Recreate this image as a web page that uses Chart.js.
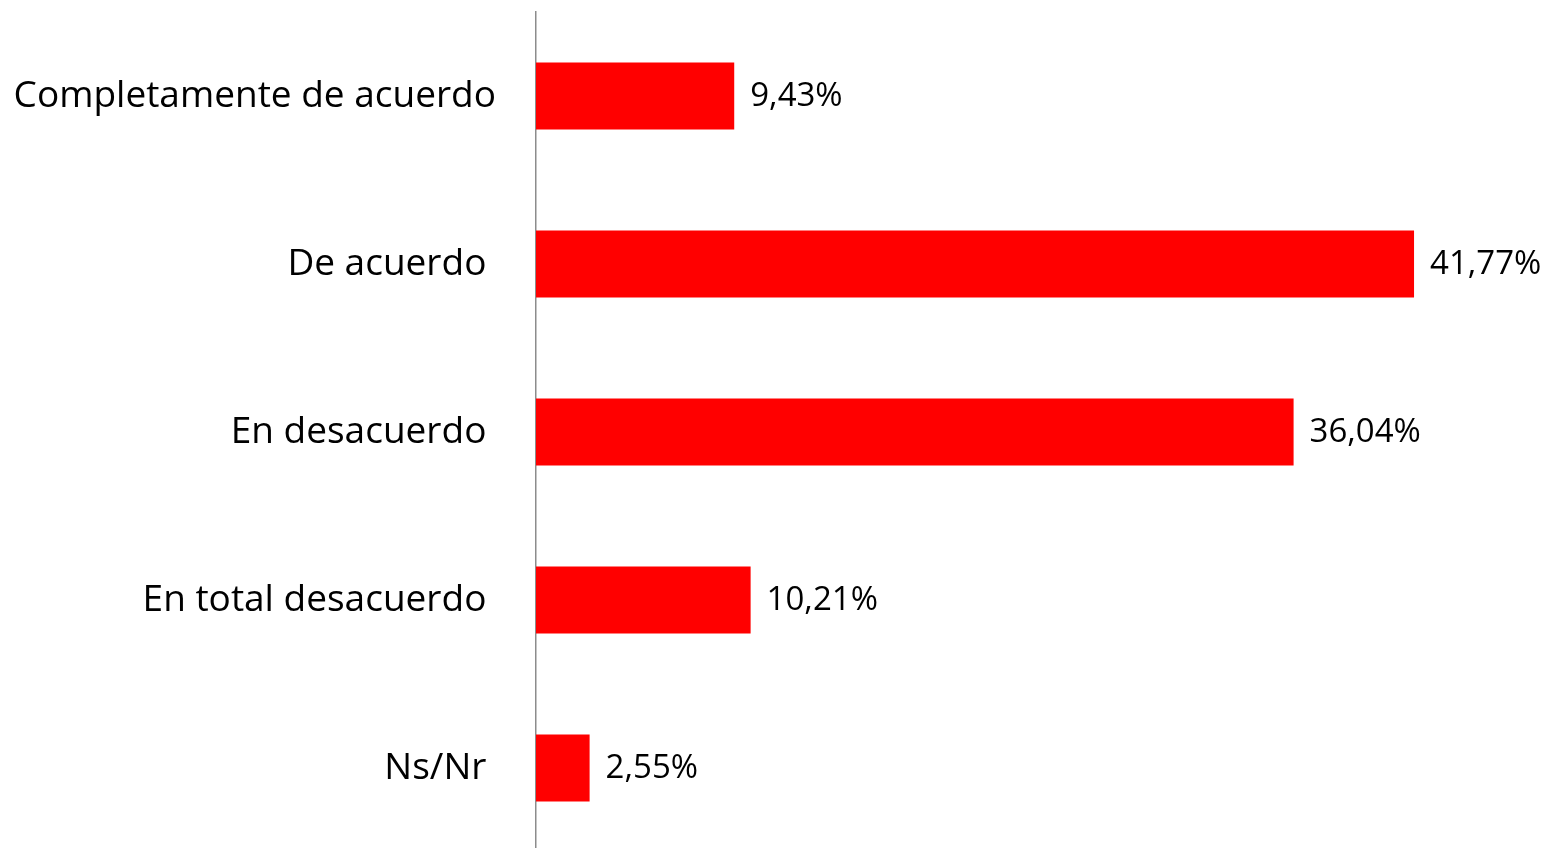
<!DOCTYPE html>
<html>
<head>
<meta charset="utf-8">
<script src="https://cdn.jsdelivr.net/npm/chart.js@4/dist/chart.umd.min.js"></script>
<style>
  html, body { margin: 0; padding: 0; background: #fff; overflow: hidden; }
  #wrap { width: 1545px; height: 852px; position: relative; }
</style>
</head>
<body>
<div id="wrap"><canvas id="barChart"></canvas></div>
<script>
const categories = [
  'Completamente de acuerdo',
  'De acuerdo ',
  'En desacuerdo ',
  'En total desacuerdo ',
  'Ns/Nr '
];
const percentages = [9.43, 41.77, 36.04, 10.21, 2.55];
const xMax = 48;

function formatPct(v) {
  return v.toFixed(2).replace('.', ',') + '%';
}

const valueLabels = {
  id: 'valueLabels',
  afterDatasetsDraw(chart) {
    const ctx = chart.ctx;
    const meta = chart.getDatasetMeta(0);
    ctx.save();
    ctx.font = '33px "Open Sans"';
    ctx.fillStyle = '#000';
    ctx.textAlign = 'left';
    ctx.textBaseline = 'middle';
    meta.data.forEach((bar, i) => {
      ctx.fillText(formatPct(percentages[i]), bar.x + 16, bar.y + 1);
    });
    ctx.restore();
  }
};

const ctx = document.getElementById('barChart');
new Chart(ctx, {
  type: 'bar',
  data: {
    labels: categories,
    datasets: [{
      data: percentages,
      backgroundColor: '#FF0000',
      borderWidth: 0,
      barPercentage: 0.4,
      categoryPercentage: 1
    }]
  },
  options: {
    indexAxis: 'y',
    responsive: true,
    maintainAspectRatio: false,
    animation: false,
    layout: { padding: { top: 12, right: 0, bottom: 0, left: 0 } },
    plugins: {
      legend: { display: false },
      tooltip: { enabled: false }
    },
    scales: {
      x: {
        display: false,
        min: 0,
        max: xMax
      },
      y: {
        afterFit(scale) {
          scale.width = 536;
          scale.paddingTop = 0;
          scale.paddingBottom = 0;
        },
        grid: { display: false, drawTicks: false },
        border: { display: true, color: '#8c8c8c', width: 1.5 },
        ticks: {
          color: '#000',
          padding: 40,
          font: { family: '"Open Sans"', size: 37 }
        }
      }
    }
  },
  plugins: [valueLabels]
});
</script>
</body>
</html>
